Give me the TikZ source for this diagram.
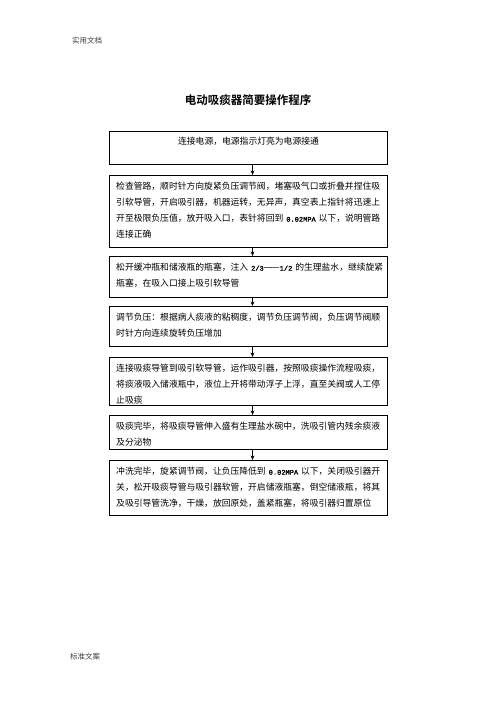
\documentclass[tikz,border=0pt]{standalone}
\usepackage{fontspec}
\usetikzlibrary{arrows.meta}
\setmainfont{Noto Sans CJK SC}
\newfontfamily\cjkbold{Noto Sans CJK SC Bold}
\newfontfamily\latmono{Liberation Mono}[FakeBold=1.5]
\newfontfamily\dashfont{DejaVu Sans}
\newcommand{\lat}[1]{{\fontsize{7pt}{16pt}\latmono #1}}
\begin{document}
\begin{tikzpicture}[x=1pt,y=-1pt,
  flowbox/.style={draw, line width=1pt, anchor=north west, minimum width=278pt, inner sep=0pt},
  flowtxt/.style={anchor=north west, inner sep=0pt, text width=272pt, align=left, font=\fontsize{8.8pt}{16pt}\selectfont},
  flowarrow/.style={line width=0.9pt, -{Stealth[length=4.5pt,width=3.8pt]}},
  pagetxt/.style={inner sep=0pt, font=\fontsize{7.5pt}{9pt}\selectfont, text=black!75}]
\useasboundingbox (0,0) rectangle (496,702);
\fill[white] (0,0) rectangle (496,702);
\node[pagetxt, anchor=west] (hdr) at (72,41) {实用文档};
\node[pagetxt, anchor=west] (ftr) at (70,657) {标准文案};
\node[inner sep=0pt, font=\fontsize{11.5pt}{14pt}\cjkbold] (title) at (248,100) {电动吸痰器简要操作程序};

\node[flowbox, minimum height=33pt] (b1) at (109,131) {};
\node[flowbox, minimum height=72pt] (b2) at (109,175) {};
\node[flowbox, minimum height=41pt] (b3) at (109,256) {};
\node[flowbox, minimum height=40pt] (b4) at (109,306) {};
\node[flowbox, minimum height=48pt] (b5) at (109,357) {};
\node[flowbox, minimum height=34pt] (b6) at (109,415) {};
\node[flowbox, minimum height=55pt] (b7) at (109,460) {};

\node[inner sep=0pt, font=\fontsize{8.8pt}{16pt}\selectfont] (t1) at ([yshift=-10pt]b1.north) {连接电源，电源指示灯亮为电源接通};
\node[flowtxt] (t2) at ([xshift=7pt,yshift=-7pt]b2.north west) {\mbox{检查管路，顺时针方向旋紧负压调节阀，堵塞吸气口或折叠并捏住吸}\\\mbox{引软导管，开启吸引器，机器运转，无异声，真空表上指针将迅速上}\\\mbox{开至极限负压值，放开吸入口，表针将回到~\lat{0.02MPA}~以下，说明管路}\\\mbox{连接正确}};
\node[flowtxt] (t3) at ([xshift=7pt,yshift=-7pt]b3.north west) {\mbox{松开缓冲瓶和储液瓶的瓶塞，注入~\lat{2/3}{\dashfont —\kern-1.6pt—}\lat{1/2}~的生理盐水，继续旋紧}\\\mbox{瓶塞，在吸入口接上吸引软导管}};
\node[flowtxt] (t4) at ([xshift=7pt,yshift=-7pt]b4.north west) {\mbox{调节负压：根据病人痰液的粘稠度，调节负压调节阀，负压调节阀顺}\\\mbox{时针方向连续旋转负压增加}};
\node[flowtxt] (t5) at ([xshift=7pt,yshift=-7pt]b5.north west) {\mbox{连接吸痰导管到吸引软导管，运作吸引器，按照吸痰操作流程吸痰，}\\\mbox{将痰液吸入储液瓶中，液位上开将带动浮子上浮，直至关阀或人工停}\\\mbox{止吸痰}};
\node[flowtxt] (t6) at ([xshift=7pt,yshift=-7pt]b6.north west) {\mbox{吸痰完毕，将吸痰导管伸入盛有生理盐水碗中，洗吸引管内残余痰液}\\\mbox{及分泌物}};
\node[flowtxt] (t7) at ([xshift=7pt,yshift=-7pt]b7.north west) {\mbox{冲洗完毕，旋紧调节阀，让负压降低到~\lat{0.02MPA}~以下，关闭吸引器开}\\\mbox{关，松开吸痰导管与吸引器软管，开启储液瓶塞，倒空储液瓶，将其}\\\mbox{及吸引导管洗净，干燥，放回原处，盖紧瓶塞，将吸引器归置原位}};

\draw[flowarrow] ([xshift=4pt]b1.south) -- ([xshift=4pt]b2.north);
\draw[flowarrow] ([xshift=4pt]b2.south) -- ([xshift=4pt]b3.north);
\draw[flowarrow] ([xshift=4pt]b3.south) -- ([xshift=4pt]b4.north);
\draw[flowarrow] ([xshift=4pt]b4.south) -- ([xshift=4pt]b5.north);
\draw[flowarrow] ([xshift=4pt]b5.south) -- ([xshift=4pt]b6.north);
\draw[flowarrow] ([xshift=4pt]b6.south) -- ([xshift=4pt]b7.north);
\end{tikzpicture}
\end{document}
